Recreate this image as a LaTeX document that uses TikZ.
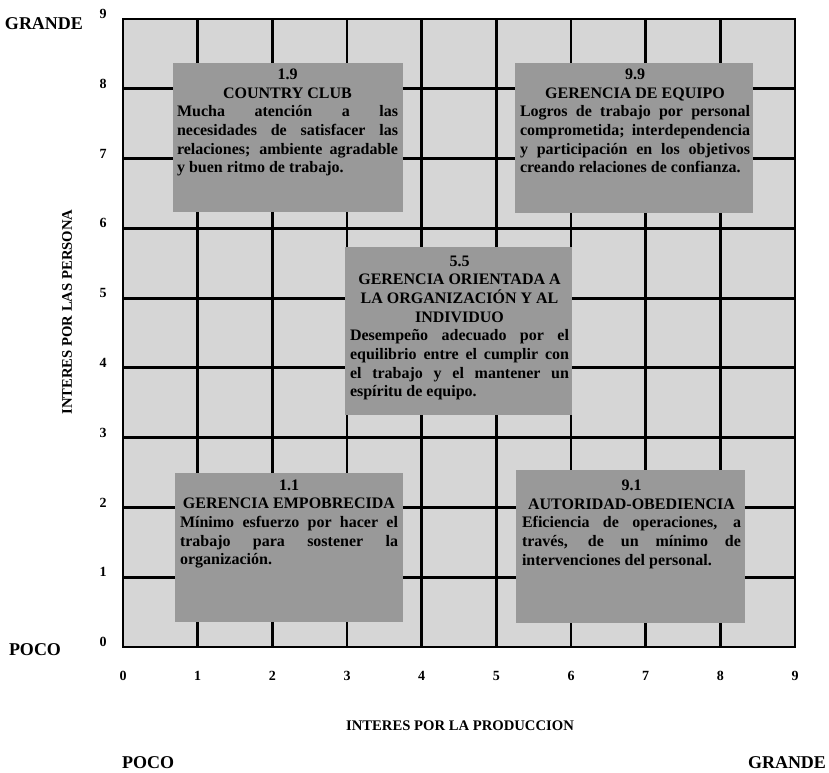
\documentclass[tikz,border=0pt]{standalone}
\usepackage{fontspec}
\setmainfont{Liberation Serif}
\usetikzlibrary{fit}
\begin{document}
\begin{tikzpicture}[x=0.75pt,y=-0.75pt,
  gridfill/.style={fill=black!16},
  gridline/.style={line width=2.2pt, line join=miter},
  quad/.style={fill=black!40, draw=none, inner sep=0pt},
  quadtext/.style={anchor=north, inner sep=0pt, align=justify,
    font=\fontsize{12}{14}\selectfont\bfseries},
  tick/.style={inner sep=0pt, font=\fontsize{10.5}{12}\selectfont\bfseries},
  side/.style={inner sep=0pt, font=\fontsize{13.5}{16}\selectfont\bfseries},
  axistitle/.style={inner sep=0pt, font=\fontsize{11}{13}\selectfont\bfseries}]
\useasboundingbox (0,0) rectangle (829,773);

% background field and unit grid
\fill[gridfill] (123,19) rectangle (795,647);
\foreach \k in {1,...,8}{
  \draw[gridline] ({123+74.667*\k},19) -- ({123+74.667*\k},647);
  \draw[gridline] (123,{647-69.778*\k}) -- (795,{647-69.778*\k});
}
\draw[gridline] (123,19) rectangle (795,647);

% axis numbers
\foreach \k in {0,...,9}{
  \node[tick] (xt\k) at ({123+74.667*\k},676) {\k};
  \node[tick] (yt\k) at (103,{642-69.778*\k}) {\k};
}

% axis titles and extremes
\node[axistitle] (xtitle) at (460,726) {INTERES POR LA PRODUCCION};
\node[axistitle, rotate=90] (ytitle) at (67,312) {INTERES POR LAS PERSONA};
\node[side] (ygrande) at (44,24) {GRANDE};
\node[side] (ypoco) at (35,650) {POCO};
\node[side] (xpoco) at (148,763) {POCO};
\node[side] (xgrande) at (787,763) {GRANDE};

% style boxes
\node[quad, fit={(173,63) (403,212)}] (q19) {};
\node[quad, fit={(515,63) (753,213)}] (q99) {};
\node[quad, fit={(345,247) (572,415)}] (q55) {};
\node[quad, fit={(175,473) (403,622)}] (q11) {};
\node[quad, fit={(516,470) (745,623)}] (q91) {};

\node[quadtext, text width=165.75pt] (t19) at (287.5,68.5) {\tolerance=10000
  {\centering 1.9\\ COUNTRY CLUB\par}
  Mucha atención a las\linebreak
  necesidades de satisfacer las\linebreak
  relaciones; ambiente agradable\linebreak
  y buen ritmo de trabajo.};

\node[quadtext, text width=172.5pt] (t99) at (635,68.5) {\tolerance=10000
  {\centering 9.9\\ GERENCIA DE EQUIPO\par}
  Logros de trabajo por personal\linebreak
  comprometida; interdependencia\linebreak
  y participación en los objetivos\linebreak
  creando relaciones de confianza.};

\node[quadtext, text width=164.25pt] (t55) at (459.5,255.5) {\tolerance=10000
  {\centering 5.5\\ GERENCIA ORIENTADA A\\ LA ORGANIZACIÓN Y AL\\ INDIVIDUO\par}
  Desempeño adecuado por el\linebreak
  equilibrio entre el cumplir con\linebreak
  el trabajo y el mantener un\linebreak
  espíritu de equipo.};

\node[quadtext, text width=163.5pt] (t11) at (289,479.5) {\tolerance=10000
  {\centering 1.1\\ GERENCIA EMPOBRECIDA\par}
  Mínimo esfuerzo por hacer el\linebreak
  trabajo para sostener la\linebreak
  organización.};

\node[quadtext, text width=164.25pt] (t91) at (631.5,479.5) {\tolerance=10000
  {\centering 9.1\\ AUTORIDAD-OBEDIENCIA\par}
  Eficiencia de operaciones, a\linebreak
  través, de un mínimo de\linebreak
  intervenciones del personal.};
\end{tikzpicture}
\end{document}
